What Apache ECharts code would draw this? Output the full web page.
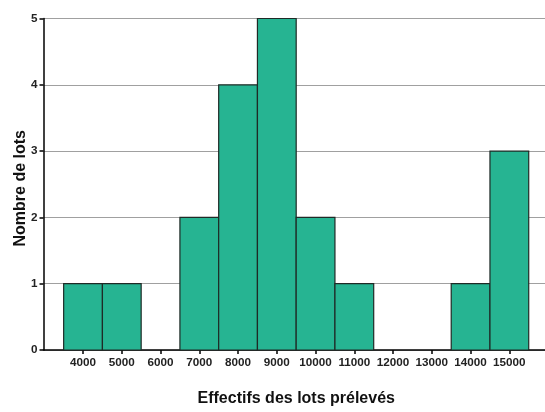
<!DOCTYPE html>
<html>
<head>
<meta charset="utf-8">
<script src="https://cdn.jsdelivr.net/npm/echarts@6/dist/echarts.min.js"></script>
<style>
html,body{margin:0;padding:0;background:#fff;}
#c{width:545px;height:412px;}
</style>
</head>
<body>
<div id="c"></div>
<script>
// Bin centres (x tick labels) and counts
const binCenters = [4000, 5000, 6000, 7000, 8000, 9000, 10000, 11000, 12000, 13000, 14000, 15000];
const counts = [1, 1, 0, 2, 4, 5, 2, 1, 0, 0, 1, 3];
const binWidth = 1000;
const yTicks = [0, 1, 2, 3, 4, 5];

const chart = echarts.init(document.getElementById('c'), null, {renderer: 'canvas'});
const font = '"Liberation Sans", Arial, sans-serif';
const data = binCenters.map((x, i) => [x, counts[i]]);

chart.setOption({
  animation: false,
  backgroundColor: '#ffffff',
  grid: {left: 43.5, right: 0, top: 18.5, bottom: 59, containLabel: false},
  xAxis: {
    type: 'value',
    min: 2980,
    max: 15920,
    name: 'Effectifs des lots prélevés',
    nameLocation: 'middle',
    nameGap: 41,
    nameMoveOverlap: false,
    nameTextStyle: {fontFamily: font, fontWeight: 'bold', fontSize: 16, color: '#111', padding: [0, 0, 0, 4]},
    axisLine: {show: true, lineStyle: {color: '#000', width: 1.5}},
    axisTick: {show: true, length: 4, lineStyle: {color: '#000', width: 1.5}, customValues: binCenters},
    axisLabel: {customValues: binCenters, formatter: v => String(v), fontFamily: font, fontWeight: 'bold', fontSize: 11.7, color: '#222', margin: 7},
    splitLine: {show: false}
  },
  yAxis: {
    type: 'value',
    min: 0,
    max: 5,
    interval: 1,
    name: 'Nombre de lots',
    nameLocation: 'middle',
    nameGap: 15,
    nameMoveOverlap: false,
    nameTextStyle: {fontFamily: font, fontWeight: 'bold', fontSize: 16, color: '#111', padding: [0, 8, 0, 0]},
    axisLine: {show: true, lineStyle: {color: '#000', width: 1.5}},
    axisTick: {show: true, length: 4, customValues: yTicks, lineStyle: {color: '#000', width: 1.5}},
    axisLabel: {customValues: yTicks, formatter: v => String(v), fontFamily: font, fontWeight: 'bold', fontSize: 11.7, color: '#222', margin: 6},
    splitLine: {show: true, lineStyle: {color: '#a0a0a0', width: 1}}
  },
  series: [{
    type: 'custom',
    data: data,
    renderItem: function (params, api) {
      const x = api.value(0), y = api.value(1);
      if (!y) return null;
      const p1 = api.coord([x - binWidth / 2, y]);
      const p2 = api.coord([x + binWidth / 2, 0]);
      return {
        type: 'rect',
        shape: {x: p1[0], y: p1[1], width: p2[0] - p1[0], height: p2[1] - p1[1]},
        style: {fill: '#26b492', stroke: '#1f2a26', lineWidth: 1.2}
      };
    }
  }]
});
</script>
</body>
</html>
